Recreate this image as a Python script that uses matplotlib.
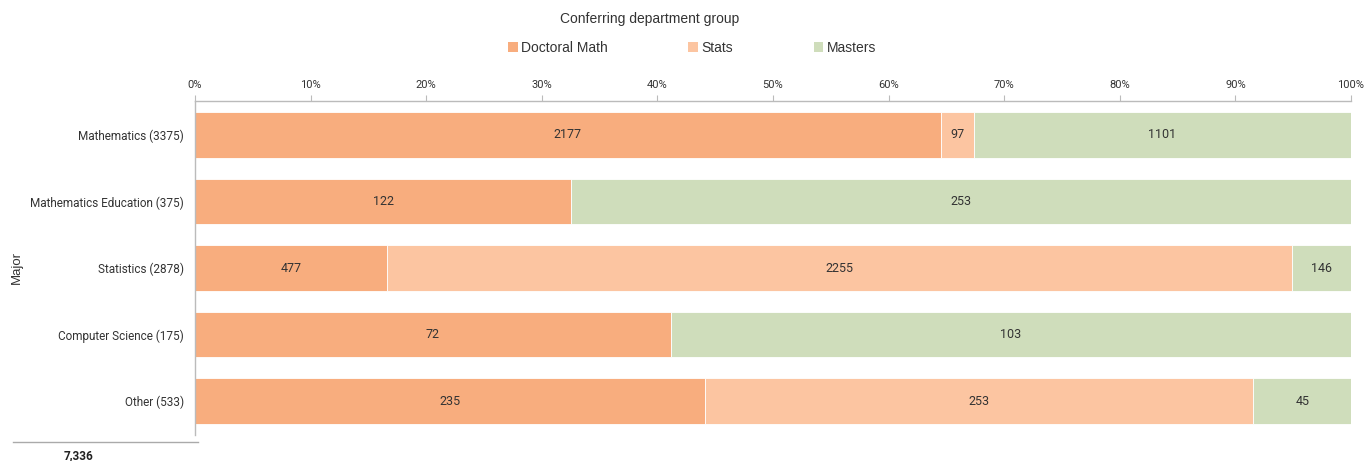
import matplotlib
matplotlib.use("Agg")
import matplotlib.pyplot as plt
from matplotlib.patches import Patch
from matplotlib.lines import Line2D
import numpy as np

categories = ["Mathematics (3375)", "Mathematics Education (375)", "Statistics (2878)",
              "Computer Science (175)", "Other (533)"]
series_names = ["Doctoral Math", "Stats", "Masters"]
doctoral = [2177, 122, 477, 72, 235]
stats = [97, 0, 2255, 0, 253]
masters = [1101, 253, 146, 103, 45]
total_label = "7,336"
xticks = [0, 10, 20, 30, 40, 50, 60, 70, 80, 90, 100]

colors = ["#F8AD7E", "#FCC5A1", "#CFDDBB"]

narrow = ['Liberation Sans Narrow', 'Roboto', 'DejaVu Sans']
regular = ['Liberation Sans', 'DejaVu Sans']

fig = plt.figure(figsize=(13.64, 4.61), dpi=100)
ax = fig.add_axes([195/1364, 1-435/461, (1351-195)/1364, (435-101)/461])

data = np.array([doctoral, stats, masters], dtype=float)
totals = data.sum(axis=0)
pct = data / totals * 100
y = np.arange(len(categories))
left = np.zeros(len(categories))
for i, name in enumerate(series_names):
    ax.barh(y, pct[i], left=left, height=0.68, color=colors[i], edgecolor="white",
            linewidth=0.6, label=name)
    for j in range(len(categories)):
        if data[i, j] > 0:
            ax.text(left[j] + pct[i, j]/2, y[j], f"{int(data[i, j])}", ha="center", va="center",
                    fontsize=9, color="#333333", family=narrow)
    left += pct[i]

ax.set_xlim(0, 100)
ax.set_ylim(4.51, -0.51)
ax.xaxis.tick_top()
ax.set_xticks(xticks)
ax.set_xticklabels([f"{t}%" for t in xticks], family=narrow, fontsize=8, color="#333333")
ax.tick_params(axis="x", length=4, color="#BBBBBB", pad=4)
ax.set_yticks(y)
ax.set_yticklabels(categories, family=narrow, fontsize=8.5, color="#333333")
ax.tick_params(axis="y", length=0, pad=8)
for s in ["right", "bottom"]:
    ax.spines[s].set_visible(False)
for s in ["top", "left"]:
    ax.spines[s].set_color("#BBBBBB")
    ax.spines[s].set_linewidth(1)
ax.set_ylabel("Major", family=regular, fontsize=9.5, color="#333333")
ax.yaxis.set_label_coords(-0.149, 0.5)

fig.text(650/1364, 1-19/461, "Conferring department group", ha="center", va="center",
         family=regular, fontsize=10, color="#333333")
handles = [Patch(facecolor=c, edgecolor="none") for c in colors]
fig.legend(handles, series_names, loc="center", bbox_to_anchor=(692/1364, 1-48/461),
           ncol=3, frameon=False, handlelength=0.7, handleheight=0.7, handletextpad=0.25,
           columnspacing=5.8, prop={"family": regular, "size": 10}, labelcolor="#333333")

fig.add_artist(Line2D([13/1364, 198/1364], [1-442/461, 1-442/461], color="#AAAAAA",
                      linewidth=1, transform=fig.transFigure))
fig.text(78/1364, 1-449/461, total_label, ha="center", va="top", fontsize=8.5,
         fontweight="bold", family=narrow, color="#222222")

fig.savefig("out.png", dpi=100)
